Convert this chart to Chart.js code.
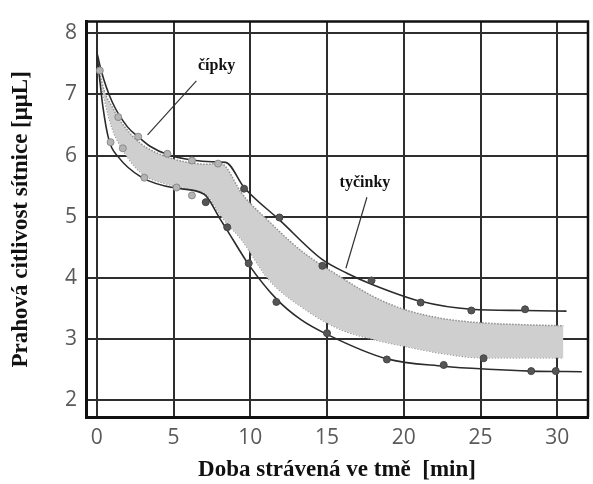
<!DOCTYPE html>
<html lang="cs">
<head>
<meta charset="UTF-8">
<title>Adaptace oka na tmu</title>
<script src="https://cdn.jsdelivr.net/npm/chart.js"></script>
<style>
  body { margin: 0; background: #fff; }
  #wrap { width: 593px; height: 484px; }
</style>
</head>
<body>
<div id="wrap"><canvas id="myChart"></canvas></div>
<script>
// osy
const xTicks = [0, 5, 10, 15, 20, 25, 30];
const yTicks = [2, 3, 4, 5, 6, 7, 8];

// horni plna krivka
const upperX = [0, 0.3, 1.0, 2.0, 2.7, 3.5, 4.6, 6.2, 7.5, 8.4, 9.6, 11.9, 14.7, 16.3, 17.9, 21.1, 24.4, 27.9, 30.6];
const upperY = [7.70, 7.38, 6.88, 6.47, 6.31, 6.15, 6.02, 5.93, 5.90, 5.89, 5.48, 4.95, 4.30, 4.08, 3.90, 3.62, 3.49, 3.47, 3.46];

// dolni plna krivka
const lowerX = [0, 0.4, 0.8, 1.4, 2.9, 5.1, 7.0, 8.0, 8.5, 9.9, 11.7, 13.3, 15.0, 18.9, 22.6, 25.5, 28.3, 31.6];
const lowerY = [7.70, 6.80, 6.25, 5.98, 5.65, 5.47, 5.37, 4.98, 4.78, 4.22, 3.66, 3.32, 3.08, 2.68, 2.56, 2.51, 2.48, 2.47];

// sedy pas (rozptyl)
const bandX = [0.1, 0.5, 1.0, 1.5, 2.8, 4.8, 6.5, 7.2, 8.0, 8.4, 9.4, 11.2, 13.4, 15.8, 18.0, 20.0, 22.5, 25.0, 27.5, 30.4];
const bandTop = [7.45, 7.05, 6.80, 6.58, 6.21, 5.96, 5.87, 5.86, 5.88, 5.82, 5.40, 4.93, 4.43, 4.03, 3.70, 3.49, 3.34, 3.27, 3.24, 3.22];
const bandBottom = [7.40, 6.92, 6.45, 6.18, 5.74, 5.52, 5.43, 5.36, 5.05, 4.92, 4.64, 3.98, 3.52, 3.17, 3.00, 2.89, 2.77, 2.70, 2.70, 2.70];

// namerene body - cipky (svetle)
const coneX = [0.2, 1.4, 2.7, 4.6, 6.2, 7.9, 0.9, 1.7, 3.1, 5.2, 6.2];
const coneY = [7.39, 6.63, 6.31, 6.03, 5.92, 5.87, 6.22, 6.12, 5.64, 5.48, 5.35];

// namerene body - tycinky (tmave)
const rodX = [9.6, 11.9, 14.7, 17.9, 21.1, 24.4, 27.9, 7.1, 8.5, 9.9, 11.7, 15.0, 18.9, 22.6, 25.2, 28.3, 29.9];
const rodY = [5.46, 4.99, 4.20, 3.96, 3.60, 3.47, 3.49, 5.24, 4.83, 4.24, 3.61, 3.10, 2.67, 2.58, 2.69, 2.48, 2.48];

// popisky se sipkou (text, pozice textu, usecka)
const notes = [
  { text: 'čípky', x: 7.81, y: 7.46, from: [6.49, 7.22], to: [3.31, 6.34] },
  { text: 'tyčinky', x: 17.47, y: 5.56, from: [17.6, 5.32], to: [16.23, 4.16] }
];

function pts(xs, ys) {
  return xs.map(function (v, i) { return { x: v, y: ys[i] }; });
}

const extras = {
  id: 'extras',
  afterDatasetsDraw: function (chart) {
    const ctx = chart.ctx, a = chart.chartArea;
    const sx = chart.scales.x, sy = chart.scales.y;
    ctx.save();
    // horni a prava hrana ramu
    ctx.strokeStyle = '#111';
    ctx.lineWidth = 2.5;
    ctx.beginPath();
    ctx.moveTo(a.left, a.top);
    ctx.lineTo(a.right, a.top);
    ctx.lineTo(a.right, a.bottom);
    ctx.stroke();
    // popisky
    ctx.font = 'bold 16px "Liberation Serif"';
    ctx.textAlign = 'center';
    ctx.textBaseline = 'middle';
    notes.forEach(function (n) {
      ctx.fillStyle = '#fff';
      const w = ctx.measureText(n.text).width;
      ctx.fillRect(sx.getPixelForValue(n.x) - w / 2 - 2, sy.getPixelForValue(n.y) - 9, w + 4, 18);
      ctx.fillStyle = '#111';
      ctx.fillText(n.text, sx.getPixelForValue(n.x), sy.getPixelForValue(n.y));
      ctx.strokeStyle = '#333';
      ctx.lineWidth = 1.2;
      ctx.beginPath();
      ctx.moveTo(sx.getPixelForValue(n.from[0]), sy.getPixelForValue(n.from[1]));
      ctx.lineTo(sx.getPixelForValue(n.to[0]), sy.getPixelForValue(n.to[1]));
      ctx.stroke();
    });
    ctx.restore();
  }
};

const ctx = document.getElementById('myChart');
new Chart(ctx, {
  type: 'line',
  data: {
    datasets: [
      {
        label: 'čípky',
        type: 'scatter',
        data: pts(coneX, coneY),
        pointRadius: 3.5,
        pointBackgroundColor: '#b4b4b4',
        pointBorderColor: '#8a8a8a',
        pointBorderWidth: 1,
        showLine: false,
        order: 0
      },
      {
        label: 'tyčinky',
        type: 'scatter',
        data: pts(rodX, rodY),
        pointRadius: 3.5,
        pointBackgroundColor: '#555',
        pointBorderColor: '#444',
        pointBorderWidth: 1,
        showLine: false,
        order: 0
      },
      {
        label: 'horní',
        data: pts(upperX, upperY),
        borderColor: '#2b2b2b',
        borderWidth: 1.6,
        pointRadius: 0,
        cubicInterpolationMode: 'monotone',
        fill: false,
        order: 1
      },
      {
        label: 'dolní',
        data: pts(lowerX, lowerY),
        borderColor: '#2b2b2b',
        borderWidth: 1.6,
        pointRadius: 0,
        cubicInterpolationMode: 'monotone',
        fill: false,
        order: 1
      },
      {
        label: 'pás horní',
        data: pts(bandX, bandTop),
        borderColor: '#8f8f8f',
        borderWidth: 1.5,
        borderDash: [1.5, 1.5],
        pointRadius: 0,
        cubicInterpolationMode: 'monotone',
        fill: '+1',
        backgroundColor: '#cfcfcf',
        order: 2
      },
      {
        label: 'pás dolní',
        data: pts(bandX, bandBottom),
        borderColor: '#8f8f8f',
        borderWidth: 1.5,
        borderDash: [1.5, 1.5],
        pointRadius: 0,
        cubicInterpolationMode: 'monotone',
        fill: false,
        order: 2
      }
    ]
  },
  options: {
    responsive: true,
    maintainAspectRatio: false,
    animation: false,
    layout: { padding: { top: 12, right: 3, left: 0, bottom: 0 } },
    plugins: { legend: { display: false }, tooltip: { enabled: false } },
    scales: {
      x: {
        type: 'linear',
        min: -0.7,
        max: 32,
        afterBuildTicks: function (s) { s.ticks = xTicks.map(function (v) { return { value: v }; }); },
        afterFit: function (s) { s.height = 67; },
        grid: { color: '#2e2e2e', lineWidth: 2, drawTicks: false },
        border: { color: '#111', width: 3 },
        ticks: { color: '#5a5a5a', padding: 8, font: { family: '"Open Sans"', size: 21 } },
        title: {
          display: true,
          text: 'Doba strávená ve tmě  [min]',
          color: '#111',
          padding: { top: 0, bottom: 0 },
          font: { family: '"Liberation Serif"', size: 23, weight: 'bold' }
        }
      },
      y: {
        min: 1.73,
        max: 8.19,
        afterBuildTicks: function (s) { s.ticks = yTicks.map(function (v) { return { value: v }; }); },
        afterFit: function (s) { s.width = 86; },
        grid: { color: '#2e2e2e', lineWidth: 2, drawTicks: false },
        border: { color: '#111', width: 3 },
        ticks: { color: '#5a5a5a', padding: 9, font: { family: '"Open Sans"', size: 21 } },
        title: {
          display: true,
          text: 'Prahová citlivost sítnice [μμL]',
          color: '#111',
          padding: { top: 7, bottom: 0 },
          font: { family: '"Liberation Serif"', size: 23, weight: 'bold' }
        }
      }
    }
  },
  plugins: [extras]
});
</script>
</body>
</html>
